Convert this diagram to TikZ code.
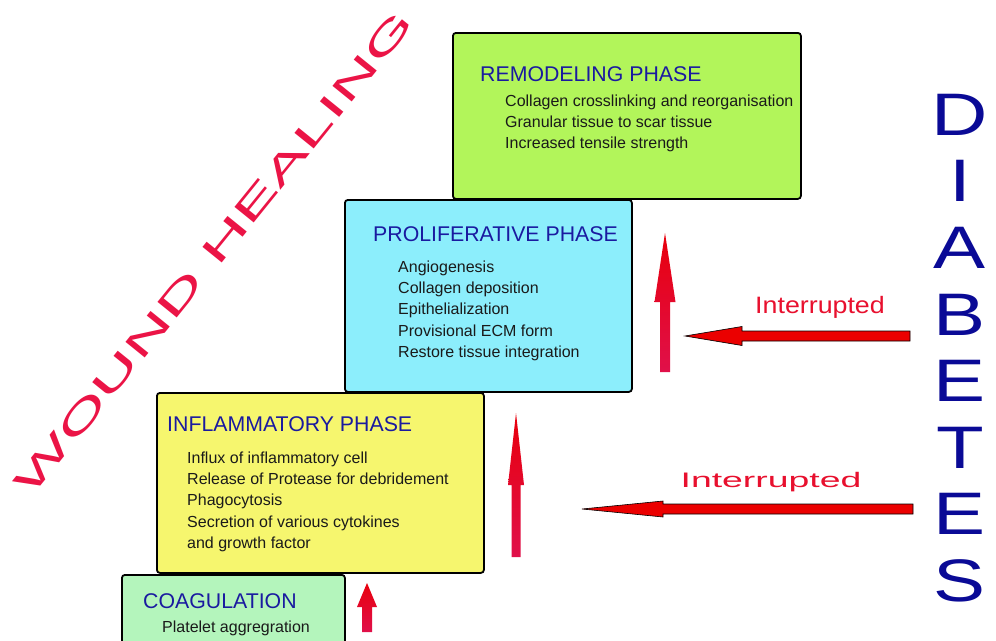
\documentclass[tikz,border=0pt]{standalone}
\usepackage{fontspec}
\setmainfont{Liberation Sans}
\definecolor{remcol}{HTML}{B2F55A}
\definecolor{procol}{HTML}{8CEEFC}
\definecolor{inflcol}{HTML}{F6F66E}
\definecolor{coagcol}{HTML}{B4F5BC}
\definecolor{titleblue}{HTML}{1A1AA0}
\definecolor{diabblue}{HTML}{0A0A96}
\definecolor{redtxt}{HTML}{E8102E}
\definecolor{woundred}{HTML}{EB1446}
\definecolor{arrtop}{HTML}{E8000C}
\definecolor{arrbot}{HTML}{E0104A}
\definecolor{bodytxt}{HTML}{1A1A1A}
\tikzset{
  phasebox/.style={draw=black, line width=1.8pt, rounded corners=3pt, anchor=north west, inner sep=0pt},
  phasetitle/.style={anchor=base west, inner sep=0pt, text=titleblue, font=\fontsize{21.3}{24}\selectfont},
  phaseline/.style={anchor=base west, inner sep=0pt, text=bodytxt, font=\fontsize{16}{19}\selectfont},
  interr/.style={inner sep=0pt, text=redtxt},
  diab/.style={inner sep=0pt, text=diabblue, font=\fontsize{60}{60}\selectfont},
  uparrow/.style={top color=arrtop, bottom color=arrbot},
  leftarrow/.style={fill=red!92!black, draw=black, line width=0.6pt, line join=miter}
}
\begin{document}
\begin{tikzpicture}[x=1pt,y=-1pt]
\useasboundingbox (0,0) rectangle (996,640);
\fill[white] (0,0) rectangle (996,640);

% boxes
\node[phasebox, fill=remcol, minimum width=348pt, minimum height=166pt] (rem) at (452,32) {};
\node[phasebox, fill=procol, minimum width=287pt, minimum height=192pt] (pro) at (344,199) {};
\node[phasebox, fill=inflcol, minimum width=327pt, minimum height=180pt] (infl) at (156,392) {};
\node[phasebox, fill=coagcol, minimum width=223pt, minimum height=90pt] (coag) at (121,574) {};

% remodeling
\node[phasetitle] (remt) at (480,81) {REMODELING PHASE};
\node[phaseline] (rem1) at (505,106) {Collagen crosslinking and reorganisation};
\node[phaseline] (rem2) at (505,127) {Granular tissue to scar tissue};
\node[phaseline] (rem3) at (505,148) {Increased tensile strength};

% proliferative
\node[phasetitle] (prot) at (373,241) {PROLIFERATIVE PHASE};
\node[phaseline] (pro1) at (398,272) {Angiogenesis};
\node[phaseline] (pro2) at (398,293) {Collagen deposition};
\node[phaseline] (pro3) at (398,314) {Epithelialization};
\node[phaseline] (pro4) at (398,336) {Provisional ECM form};
\node[phaseline] (pro5) at (398,357) {Restore tissue integration};

% inflammatory
\node[phasetitle] (inflt) at (167,431) {INFLAMMATORY PHASE};
\node[phaseline] (infl1) at (187,463) {Influx of inflammatory cell};
\node[phaseline] (infl2) at (187,484) {Release of Protease for debridement};
\node[phaseline] (infl3) at (187,505) {Phagocytosis};
\node[phaseline] (infl4) at (187,527) {Secretion of various cytokines};
\node[phaseline] (infl5) at (187,548) {and growth factor};

% coagulation
\node[phasetitle] (coagt) at (143,608) {COAGULATION};
\node[phaseline] (coag1) at (162,632) {Platelet aggregration};

% up arrows
\shade[uparrow] (367,583) -- (377,607) -- (372,607) -- (372,632) -- (362,632) -- (362,607) -- (357,607) -- cycle;
\shade[uparrow] (516,413) -- (524,485) -- (520.5,485) -- (520.5,557) -- (511.5,557) -- (511.5,485) -- (508,485) -- cycle;
\shade[uparrow] (665,233) -- (675.5,302) -- (670,302) -- (670,372) -- (660,372) -- (660,302) -- (654.5,302) -- cycle;

% left arrows
\draw[leftarrow] (685,336) -- (742,326.5) -- (742,331) -- (910,331) -- (910,341) -- (742,341) -- (742,345.5) -- cycle;
\draw[leftarrow] (582,509) -- (663,501) -- (663,504) -- (913,504) -- (913,514) -- (663,514) -- (663,517) -- cycle;

\node[interr] (int1) at (820,307) {\fontsize{23.7}{26}\selectfont\scalebox{1.13}[1]{Interrupted}};
\node[interr] (int2) at (771,482) {\fontsize{21}{24}\selectfont\scalebox{1.78}[1]{Interrupted}};

% DIABETES
\node[diab] (d1) at (960,115) {\scalebox{1.3}[1]{D}};
\node[diab] (d2) at (960,181) {\scalebox{1.3}[1]{I}};
\node[diab] (d3) at (960,248) {\scalebox{1.3}[1]{A}};
\node[diab] (d4) at (960,315) {\scalebox{1.3}[1]{B}};
\node[diab] (d5) at (960,381) {\scalebox{1.3}[1]{E}};
\node[diab] (d6) at (960,448) {\scalebox{1.3}[1]{T}};
\node[diab] (d7) at (960,514) {\scalebox{1.3}[1]{E}};
\node[diab] (d8) at (960,581) {\scalebox{1.3}[1]{S}};

% WOUND HEALING
\node[inner sep=0pt, text=woundred, rotate=51, font=\fontsize{36}{40}\selectfont] (wh) at (214,253) {\scalebox{1.98}[1]{WOUND HEALING}};
\end{tikzpicture}
\end{document}
